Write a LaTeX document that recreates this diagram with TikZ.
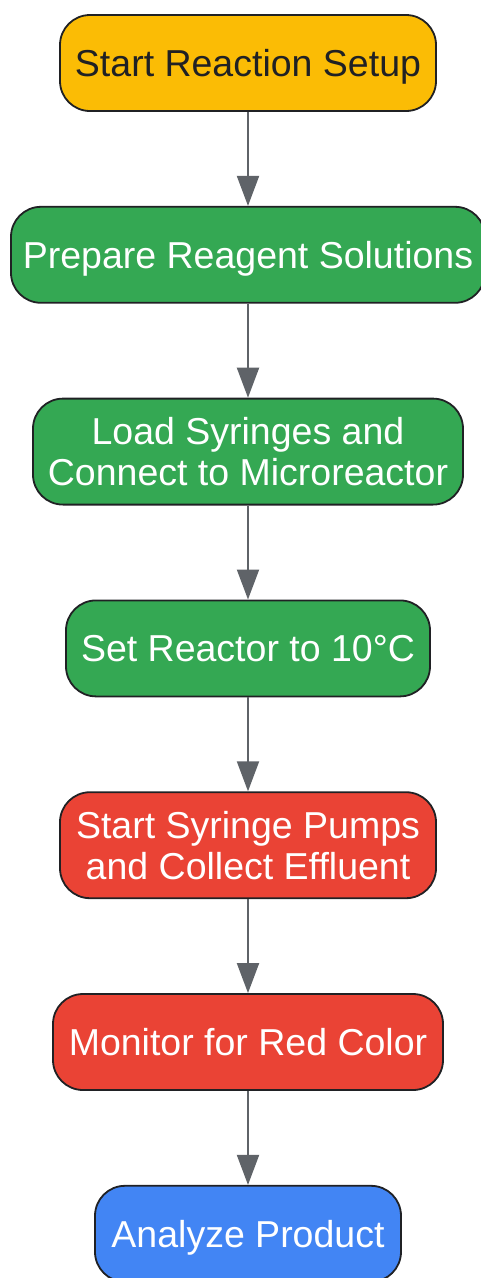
\documentclass[tikz,border=0pt]{standalone}
\usepackage{fontspec}
\setmainfont{Liberation Sans}
\usepackage{tikz}
\usetikzlibrary{shapes,arrows.meta,positioning}
\definecolor{gyellow}{HTML}{FBBC05}
\definecolor{ggreen}{HTML}{34A853}
\definecolor{gred}{HTML}{EA4335}
\definecolor{gblue}{HTML}{4285F4}
\definecolor{gborder}{HTML}{202124}
\definecolor{garrow}{HTML}{5F6368}

\begin{document}
\begin{tikzpicture}[
    flowstep/.style={rectangle, draw=gborder, line width=1.8pt, text=white,
        minimum height=96pt, rounded corners=30pt, align=center,
        font=\fontsize{37.5}{41}\selectfont, inner sep=4pt, text depth=0pt},
    arr/.style={-{Triangle[length=30pt,width=22pt]}, line width=2pt, garrow}
]
    \useasboundingbox (0,0) rectangle (481pt,-1278pt);

    \node[flowstep, fill=gyellow, text=gborder, minimum width=376pt] (start) at (248pt,-63pt) {Start Reaction Setup};
    \node[flowstep, fill=ggreen, minimum width=474pt, below=94pt of start] (prep) {Prepare Reagent Solutions};
    \node[flowstep, fill=ggreen, minimum width=430pt, minimum height=106pt, below=94pt of prep] (load) {Load Syringes and\\Connect to Microreactor};
    \node[flowstep, fill=ggreen, minimum width=364pt, below=94pt of load] (temp) {Set Reactor to 10°C};
    \node[flowstep, fill=gred, minimum width=376pt, minimum height=106pt, below=94pt of temp] (pumps) {Start Syringe Pumps\\and Collect Effluent};
    \node[flowstep, fill=gred, minimum width=390pt, below=94pt of pumps] (monitor) {Monitor for Red Color};
    \node[flowstep, fill=gblue, minimum width=306pt, below=94pt of monitor] (analyze) {Analyze Product};

    \draw[arr] (start) -- (prep);
    \draw[arr] (prep) -- (load);
    \draw[arr] (load) -- (temp);
    \draw[arr] (temp) -- (pumps);
    \draw[arr] (pumps) -- (monitor);
    \draw[arr] (monitor) -- (analyze);
\end{tikzpicture}
\end{document}
